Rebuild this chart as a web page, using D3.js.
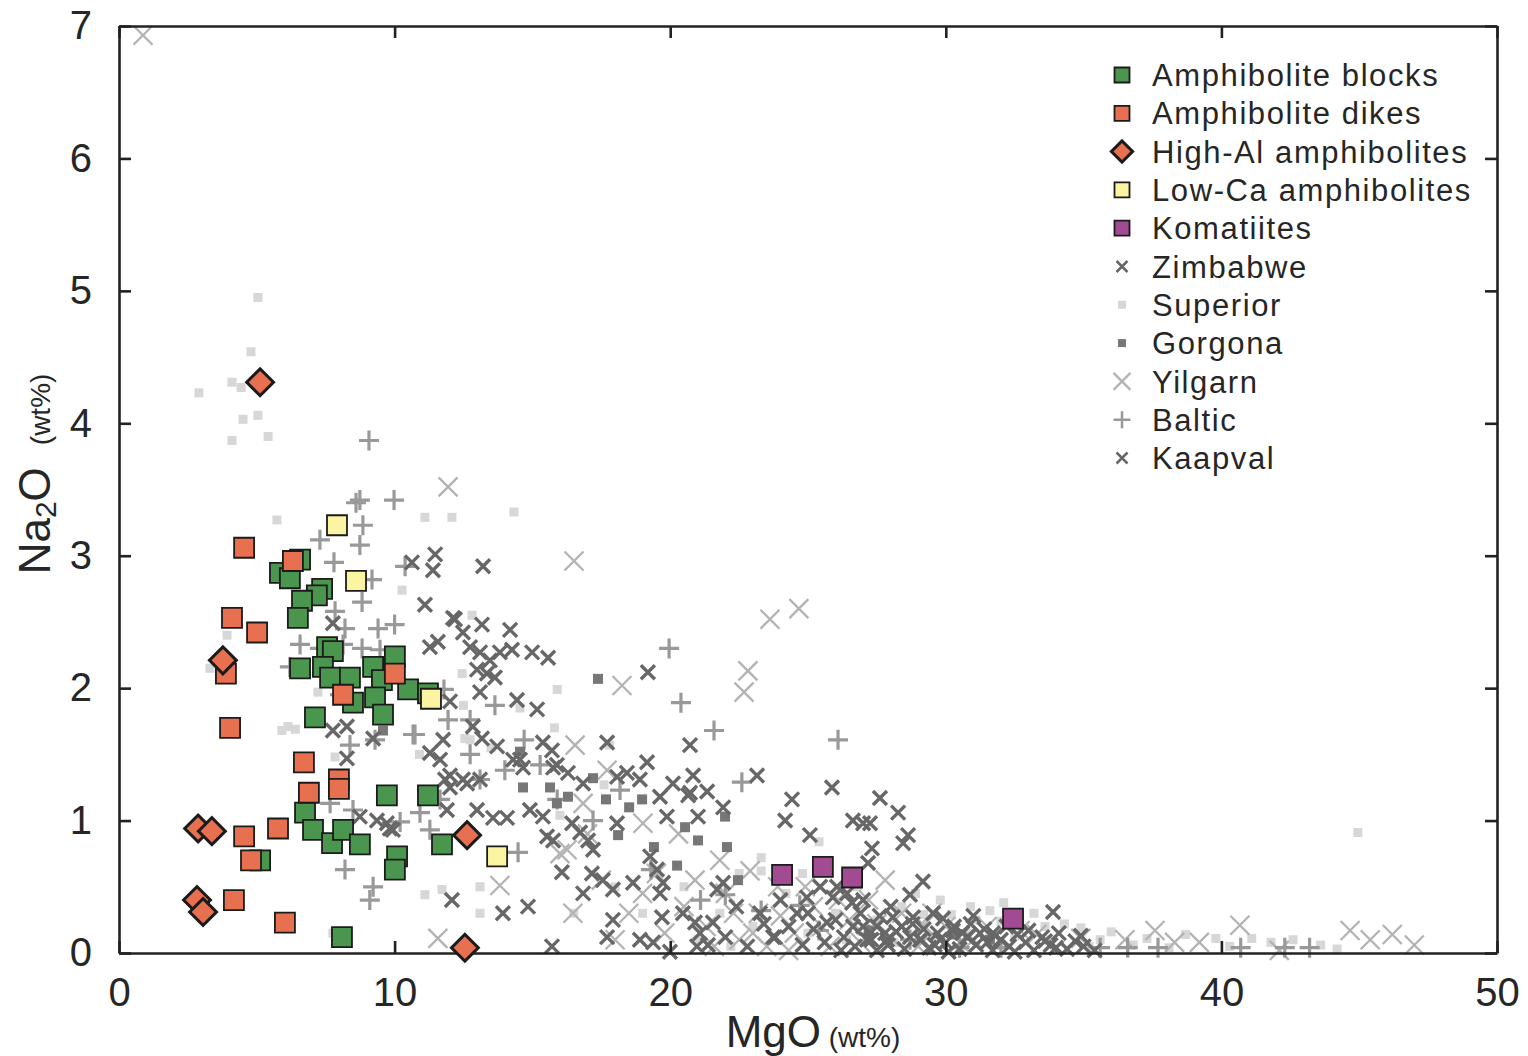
<!DOCTYPE html>
<html>
  <head>
    <meta charset="utf-8" />
    <title>Na2O vs MgO</title>
    <script src="https://d3js.org/d3.v7.min.js"></script>
    <style>
      body { margin: 0; background: #fff; }
      svg text { font-family: 'Liberation Sans', Arial, Helvetica, sans-serif; fill: #262626; }
      .axis path, .axis line { stroke: #222; stroke-width: 2.6; }
      .axis text { font-size: 40px; }
    </style>
  </head>
  <body>
    <div id="chart"></div>
    <script>
      // MgO, Na2O (wt%) pairs
      const superior = [
        [5.04,4.95],[4.79,4.54],[2.9,4.23],[4.1,4.31],[4.43,4.27],[5.04,4.06],[4.5,4.03],[4.1,3.87],[5.41,3.9],
        [5.73,3.27],[11.1,3.29],[12.08,3.29],[14.33,3.33],[10.27,2.74],[3.92,2.4],[3.3,2.15],[6.13,1.71],[6.4,1.69],
        [12.74,1.61],[15.9,1.99],[12.5,1.87],[10.9,1.5],[14.55,1.85],[15.8,1.7],[16.0,1.04],[17.6,1.27],[17.8,1.57],
        [11.72,0.48],[13.1,0.3],[11.1,0.44],[13.1,0.5],[7.76,0.15],[7.22,1.97],[5.91,1.68],[7.84,1.48],[12.45,2.11],
        [12.81,2.55],[12.55,1.62],[23.3,0.72],[23.3,0.62],[25.4,0.84],[32.0,0.24],[32.1,0.38],[44.95,0.91],
        [29.2,0.29],[30.2,0.29],[31.1,0.25],[32.5,0.13],[33.8,0.1],[34.9,0.19],[35.6,0.1],[37.3,0.11],[38.7,0.14],
        [39.8,0.11],[41.1,0.11],[41.8,0.08],[43.6,0.06],[20.5,0.5],[21.8,0.3],[22.5,0.6],[23.0,0.2],[24.2,0.45],
        [25.0,0.15],[26.0,0.3],[26.8,0.5],[27.5,0.25],[28.4,0.35],[28.9,0.45],[29.8,0.4],[30.8,0.15],[31.6,0.32],
        [33.2,0.3],[34.3,0.22],[35.2,0.05],[36.0,0.16],[18.0,0.5],[16.5,0.3],[19.0,0.3],[13.5,1.55],
        [21.0,0.1],[22.2,0.05],[24.8,0.6],[26.4,0.1],[28.1,0.08],[29.5,0.12],[30.9,0.35],[33.6,0.2],[36.8,0.06],
        [38.1,0.04],[40.3,0.05],[42.6,0.1],[44.2,0.03]
      ];
      const yilgarn = [
        [0.87,6.93],[11.94,3.52],[16.51,2.96],[23.62,2.52],[24.67,2.6],[22.82,2.13],[22.68,1.97],[18.25,2.02],
        [16.55,1.57],[13.82,0.51],[16.47,0.3],[16.26,0.78],[16.84,1.13],[19.01,0.98],[17.71,1.38],[11.57,0.11],
        [37.59,0.17],[36.5,0.1],[40.67,0.21],[44.67,0.17],[45.4,0.1],[46.2,0.14],[47.0,0.06],[42.1,0.02],
        [39.2,0.08],[38.3,0.08],[34.9,0.11],[33.3,0.14],[32.7,0.17],[29.2,0.21],[20.5,0.35],[21.3,0.2],[22.0,0.45],
        [22.5,0.1],[23.2,0.3],[23.9,0.5],[24.5,0.15],[25.2,0.35],[25.8,0.05],[26.5,0.25],[27.2,0.4],[28.0,0.12],
        [19.8,0.15],[18.5,0.3],[17.5,0.55],[21.8,0.7],[20.3,0.9],[19.5,0.6],[23.5,0.05],[27.8,0.55],[29.5,0.3],
        [30.5,0.08],[31.5,0.2],[16.0,0.75],[17.0,0.9],[20.9,0.55],[21.6,0.05],[22.9,0.62],[23.0,0.15],[24.0,0.28],
        [24.9,0.5],[25.5,0.2],[26.1,0.4],[26.9,0.08],[27.5,0.22],[28.4,0.3],[29.0,0.05],[30.0,0.2],[31.0,0.1],
        [19.0,0.45],[18.0,0.1],[22.3,0.3],[24.3,0.02]
      ];
      const baltic = [
        [9.07,3.87],[8.74,3.42],[8.6,3.4],[9.98,3.42],[8.85,3.23],[7.29,3.12],[8.74,3.08],[7.8,2.95],[9.18,2.82],
        [10.38,2.92],[8.82,2.65],[7.84,2.58],[8.2,2.45],[9.4,2.45],[10.0,2.48],[8.13,2.33],[8.82,2.3],[9.47,2.29],
        [7.29,2.3],[6.57,2.33],[6.2,2.16],[8.02,1.95],[8.38,1.57],[9.29,1.61],[10.67,1.65],[11.94,1.76],[12.74,1.76],
        [11.79,1.99],[13.64,1.87],[12.74,1.5],[13.1,1.31],[11.65,1.16],[11.28,0.93],[10.2,0.99],[8.49,1.08],
        [7.66,1.13],[10.92,1.06],[10.74,1.65],[8.2,0.63],[9.22,0.5],[9.1,0.4],[14.48,0.76],[14.0,1.38],[14.7,1.61],
        [19.96,2.3],[20.39,1.89],[21.59,1.68],[26.09,1.61],[22.6,1.29],[18.18,1.23],[15.28,1.42],[15.9,1.16],
        [17.2,1.0],[19.3,0.63],[21.1,0.4],[22.0,0.44],[23.3,0.32],[24.7,0.36],[25.4,0.17],[27.2,0.14],[28.7,0.1],
        [30.5,0.04],[32.0,0.04],[35.6,0.04],[36.6,0.04],[37.7,0.04],[40.7,0.04],[42.3,0.04],[43.2,0.04]
      ];
      const gorgona = [
        [17.38,2.07],[14.55,1.52],[14.66,1.25],[15.64,1.25],[15.89,1.13],[17.2,1.32],[17.67,1.16],[18.51,1.1],
        [18.98,1.16],[18.11,0.89],[19.41,0.8],[20.25,0.66],[20.54,0.95],[21.01,0.85],[21.99,1.03],[22.06,0.8],
        [22.46,0.55],[16.29,1.18],[27.2,0.17],[30.3,0.14],[31.6,0.1],[9.58,1.68]
      ];
      const zimbabwe = [
        [11.47,3.01],[11.39,2.89],[10.63,2.95],[13.21,2.92],[11.1,2.63],[12.19,2.52],[13.17,2.48],[14.19,2.44],
        [12.48,2.42],[11.28,2.31],[11.57,2.35],[12.74,2.31],[13.1,2.27],[13.46,2.21],[13.82,2.27],[14.26,2.29],
        [14.99,2.27],[15.57,2.23],[12.99,2.14],[13.35,2.11],[13.64,2.08],[13.1,1.97],[12.01,1.9],[14.44,1.91],
        [15.17,1.84],[19.19,2.12],[12.84,1.71],[13.17,1.62],[13.72,1.56],[11.76,1.61],[11.28,1.51],[11.65,1.46],
        [14.55,1.46],[15.38,1.59],[15.71,1.53],[15.89,1.42],[17.71,1.59],[18.43,1.36],[19.16,1.44],[20.72,1.57],
        [11.83,1.31],[12.01,1.25],[12.48,1.31],[13.1,1.31],[14.3,1.46],[14.66,1.4],[15.75,1.4],[16.29,1.36],
        [16.84,1.28],[18.07,1.33],[18.9,1.31],[19.63,1.18],[20.1,1.28],[20.83,1.34],[20.72,1.21],[12.99,1.08],
        [13.57,1.02],[14.08,1.02],[14.91,1.08],[15.38,1.03],[16.44,0.98],[16.73,0.91],[17.02,0.85],[15.53,0.88],
        [15.75,0.85],[18.07,0.98],[17.2,0.78],[19.27,0.73],[19.52,0.63],[19.88,1.03],[16.07,0.61],[16.84,0.45],
        [17.16,0.6],[17.56,0.55],[17.92,0.48],[18.65,0.53],[19.63,0.45],[19.74,0.53],[12.08,0.4],[14.84,0.35],
        [13.93,0.3],[17.92,0.25],[17.71,0.12],[18.9,0.1],[19.38,0.08],[19.7,0.27],[20.46,0.3],[20.9,0.23],
        [15.71,0.05],[20.97,0.05],[19.99,0.01],[9.72,0.98],[9.94,0.93],[12.01,1.34],[12.63,1.28],[11.9,1.08],
        [8.27,1.71],[9.22,1.62],[8.27,1.47],[7.76,1.68],[8.74,1.03],[9.36,1.0],[9.83,0.94],[7.76,2.49],[12.12,2.53]
      ];
      const kaapval = [
        [20.65,1.19],[21.34,1.22],[23.15,1.34],[21.01,1.03],[21.92,1.1],[24.42,1.16],[24.17,1.0],[25.87,1.25],
        [25.07,0.89],[27.61,1.17],[28.27,1.06],[26.63,1.0],[27.0,0.98],[27.25,0.98],[28.63,0.89],[28.45,0.83],
        [27.32,0.79],[27.18,0.68],[21.92,0.53],[21.7,0.48],[25.44,0.5],[24.96,0.42],[26.05,0.5],[26.42,0.45],
        [27.0,0.4],[29.17,0.54],[28.7,0.44],[23.26,0.3],[24.6,0.3],[21.55,0.23],[21.08,0.15],[21.37,0.06],
        [23.73,0.12],[25.69,0.23],[26.63,0.2],[27.5,0.2],[28.08,0.27],[28.81,0.27],[29.54,0.3],[30.26,0.17],
        [30.77,0.12],[31.24,0.15],[31.71,0.15],[27.14,0.1],[27.87,0.1],[29.06,0.1],[29.79,0.1],[33.89,0.31],
        [25.2,0.18],[25.6,0.08],[26.0,0.25],[26.3,0.12],[26.7,0.05],[27.0,0.2],[27.3,0.1],[27.6,0.28],[27.9,0.06],
        [28.2,0.16],[28.5,0.03],[28.8,0.22],[29.1,0.1],[29.4,0.04],[29.7,0.15],[30.0,0.08],[30.3,0.2],[30.5,0.03],
        [30.8,0.12],[31.1,0.06],[31.4,0.18],[31.7,0.02],[32.0,0.1],[32.3,0.05],[32.6,0.14],[32.9,0.08],[33.2,0.02],
        [33.5,0.12],[33.8,0.06],[34.1,0.15],[34.4,0.03],[34.7,0.09],[35.0,0.05],[35.4,0.02],[29.9,0.26],[31.0,0.28],
        [28.0,0.35],[26.6,0.38],[25.9,0.42],[30.6,0.15],[31.8,0.13],[33.0,0.17],[34.0,0.04],[27.5,0.02],[28.7,0.12],
        [29.2,0.18],[30.1,0.01],[32.2,0.2],[24.8,0.06],[24.3,0.2],[23.8,0.12],[22.4,0.35],[22.8,0.05],[23.4,0.22],
        [24.0,0.4],[25.0,0.3],[26.2,0.02],[27.8,0.15],[29.6,0.06],[30.9,0.22],[32.5,0.01],[33.6,0.09],[34.9,0.13],
        [22.0,0.12],[26.9,0.3],[28.4,0.2],[31.5,0.08]
      ];
      const amphBlocks = [
        [6.57,2.97],[5.84,2.87],[6.2,2.83],[7.37,2.75],[7.18,2.7],[6.64,2.66],[6.49,2.53],[7.55,2.31],[7.76,2.28],
        [6.57,2.15],[7.4,2.16],[7.66,2.08],[8.38,2.08],[9.22,2.16],[10.01,2.24],[9.54,2.06],[8.49,1.89],[9.29,1.93],
        [9.58,1.8],[10.49,1.99],[11.21,1.96],[7.11,1.78],[6.75,1.06],[7.04,0.93],[7.73,0.83],[8.13,0.93],[8.74,0.82],
        [9.72,1.19],[11.21,1.19],[11.72,0.82],[10.09,0.73],[10.01,0.63],[5.12,0.7],[8.09,0.12]
      ];
      const amphDikes = [
        [4.54,3.06],[6.31,2.96],[4.1,2.53],[5.01,2.42],[3.88,2.11],[10.01,2.11],[8.13,1.95],[4.03,1.7],[6.71,1.44],
        [6.89,1.21],[7.98,1.31],[7.98,1.24],[4.54,0.88],[5.77,0.94],[4.79,0.7],[4.17,0.4],[6.02,0.23]
      ];
      const highAl = [
        [5.12,4.31],[3.77,2.21],[2.87,0.94],[3.37,0.92],[12.63,0.89],[2.83,0.4],[3.05,0.31],[12.55,0.04]
      ];
      const lowCa = [[7.91,3.23],[8.6,2.81],[11.32,1.92],[13.72,0.73]];
      const komatiites = [[24.06,0.59],[25.54,0.65],[26.6,0.57],[32.44,0.26]];

      const xTicks = [0, 10, 20, 30, 40, 50];
      const yTicks = [0, 1, 2, 3, 4, 5, 6, 7];

      const width = 1528;
      const height = 1056;
      const plot = { left: 119, right: 1497, top: 26, bottom: 953 };

      const x = d3.scaleLinear().domain([0, 50]).range([plot.left, plot.right]);
      const y = d3.scaleLinear().domain([0, 7]).range([plot.bottom, plot.top]);

      // line-type symbols
      const symX = {
        draw(ctx, size) {
          const r = Math.sqrt(size) / 2;
          ctx.moveTo(-r, -r); ctx.lineTo(r, r);
          ctx.moveTo(r, -r); ctx.lineTo(-r, r);
        },
      };
      const symPlus = {
        draw(ctx, size) {
          const r = Math.sqrt(size) / 2;
          ctx.moveTo(-r, 0); ctx.lineTo(r, 0);
          ctx.moveTo(0, -r); ctx.lineTo(0, r);
        },
      };

      const series = [
        { name: 'Amphibolite blocks', data: amphBlocks, type: d3.symbolSquare, side: 20, legendSide: 15, fill: '#4b964f', stroke: '#1b1b1b', sw: 1.8 },
        { name: 'Amphibolite dikes', data: amphDikes, type: d3.symbolSquare, side: 20, legendSide: 15, fill: '#e6704f', stroke: '#1b1b1b', sw: 1.8 },
        { name: 'High-Al amphibolites', data: highAl, type: d3.symbolSquare, side: 19, legendSide: 15, fill: '#e6704f', stroke: '#1b1b1b', sw: 3, rotate: 45 },
        { name: 'Low-Ca amphibolites', data: lowCa, type: d3.symbolSquare, side: 20, legendSide: 15, fill: '#fbf5a2', stroke: '#1b1b1b', sw: 1.8 },
        { name: 'Komatiites', data: komatiites, type: d3.symbolSquare, side: 20, legendSide: 15, fill: '#a24b92', stroke: '#1b1b1b', sw: 1.8 },
        { name: 'Zimbabwe', data: zimbabwe, type: symX, side: 14, legendSide: 11, fill: 'none', stroke: '#676767', sw: 3.4 },
        { name: 'Superior', data: superior, type: d3.symbolSquare, side: 9, legendSide: 8, fill: '#d7d7d7', stroke: 'none', sw: 0 },
        { name: 'Gorgona', data: gorgona, type: d3.symbolSquare, side: 10, legendSide: 8, fill: '#777', stroke: 'none', sw: 0 },
        { name: 'Yilgarn', data: yilgarn, type: symX, side: 19, legendSide: 17, fill: 'none', stroke: '#b3b3b3', sw: 2.3 },
        { name: 'Baltic', data: baltic, type: symPlus, side: 20, legendSide: 17, fill: 'none', stroke: '#999', sw: 3.2 },
        { name: 'Kaapval', data: kaapval, type: symX, side: 14, legendSide: 11, fill: 'none', stroke: '#676767', sw: 3.4 },
      ];
      const byName = Object.fromEntries(series.map((s) => [s.name, s]));

      const svg = d3.select('#chart').append('svg').attr('width', width).attr('height', height);

      function drawSeries(s) {
        const sym = d3.symbol().type(s.type).size(s.side * s.side);
        svg.append('g')
          .selectAll('path')
          .data(s.data)
          .join('path')
          .attr('d', sym)
          .attr('transform', (d) => `translate(${x(d[0])},${y(d[1])})` + (s.rotate ? ` rotate(${s.rotate})` : ''))
          .attr('fill', s.fill)
          .attr('stroke', s.stroke)
          .attr('stroke-width', s.sw);
      }

      // background data first, highlighted samples on top
      ['Superior', 'Yilgarn', 'Baltic', 'Gorgona', 'Zimbabwe', 'Kaapval'].forEach((n) => drawSeries(byName[n]));

      // axes: ticks point inward on all four sides
      svg.append('g').attr('class', 'axis').attr('transform', `translate(0,${plot.bottom})`)
        .call(d3.axisBottom(x).tickValues(xTicks).tickSize(-12).tickSizeOuter(0).tickPadding(25));
      svg.append('g').attr('class', 'axis').attr('transform', `translate(${plot.left},0)`)
        .call(d3.axisLeft(y).tickValues(yTicks).tickFormat(d3.format('d')).tickSize(-12).tickSizeOuter(0).tickPadding(27));
      svg.append('g').attr('class', 'axis').attr('transform', `translate(0,${plot.top})`)
        .call(d3.axisTop(x).tickValues(xTicks).tickSize(-12).tickSizeOuter(0).tickFormat(''));
      svg.append('g').attr('class', 'axis').attr('transform', `translate(${plot.right},0)`)
        .call(d3.axisRight(y).tickValues(yTicks).tickSize(-12).tickSizeOuter(0).tickFormat(''));

      ['Amphibolite blocks', 'Amphibolite dikes', 'Low-Ca amphibolites', 'High-Al amphibolites', 'Komatiites'].forEach((n) => drawSeries(byName[n]));

      // axis titles
      const xt = svg.append('text').attr('x', (plot.left + plot.right) / 2 + 5).attr('y', 1047).attr('text-anchor', 'middle');
      xt.append('tspan').attr('font-size', 44).text('MgO');
      xt.append('tspan').attr('font-size', 28).text(' (wt%)');

      const yt = svg.append('text').attr('transform', 'translate(50,474) rotate(-90)').attr('text-anchor', 'middle');
      yt.append('tspan').attr('font-size', 44).text('Na');
      yt.append('tspan').attr('font-size', 30).attr('dy', 6).text('2');
      yt.append('tspan').attr('font-size', 44).attr('dy', -6).text('O');
      yt.append('tspan').attr('font-size', 28).attr('dx', 22).text('(wt%)');

      // legend
      const legend = svg.append('g').attr('transform', 'translate(1122,75)');
      const row = legend.selectAll('g').data(series).join('g').attr('transform', (d, i) => `translate(0,${i * 38.3})`);
      row.append('path')
        .attr('d', (s) => d3.symbol().type(s.type).size(s.legendSide * s.legendSide)())
        .attr('transform', (s) => (s.rotate ? `rotate(${s.rotate})` : null))
        .attr('fill', (s) => s.fill)
        .attr('stroke', (s) => s.stroke)
        .attr('stroke-width', (s) => (s.rotate ? 3 : Math.min(s.sw, 2.5)));
      row.append('text').attr('x', 30).attr('dy', '0.36em').attr('font-size', 31)
        .attr('letter-spacing', 1.6).text((s) => s.name);
    </script>
  </body>
</html>
